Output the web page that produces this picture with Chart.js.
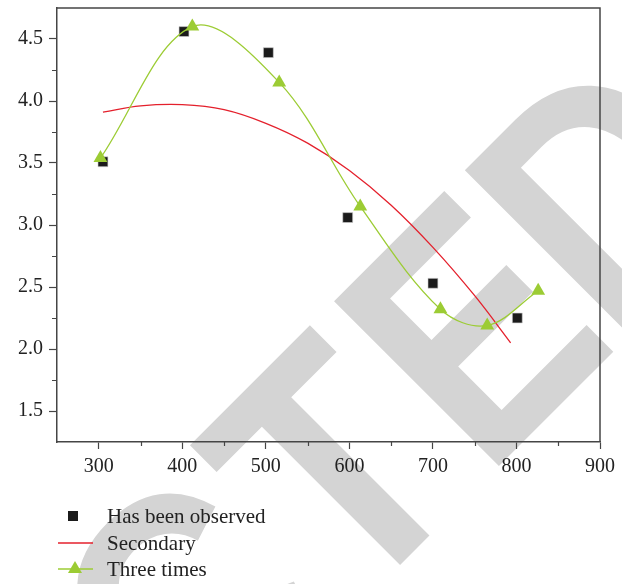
<!DOCTYPE html>
<html>
<head>
<meta charset="utf-8">
<script src="https://cdn.jsdelivr.net/npm/chart.js@4/dist/chart.umd.min.js"></script>
<style>
    html, body { margin: 0; padding: 0; background: #fff; }
    #wrap { width: 622px; height: 584px; position: relative; }
</style>
</head>
<body>
<div id="wrap"><canvas id="fitChart"></canvas></div>
<script>
// measured points
const observedX = [305, 402, 503, 598, 700, 801];
const observedY = [3.51, 4.56, 4.39, 3.06, 2.53, 2.25];

// second-order fit
const secondaryX = [305, 350, 400, 450, 500, 550, 600, 650, 700, 750, 793];
const secondaryY = [3.91, 3.96, 3.97, 3.93, 3.82, 3.66, 3.44, 3.16, 2.82, 2.43, 2.05];

// third-order curve with its markers
const threeX = [302, 412, 516, 613, 709, 765, 826];
const threeY = [3.54, 4.60, 4.15, 3.15, 2.32, 2.19, 2.47];

const xTicks = [300, 400, 500, 600, 700, 800, 900];
const yTicks = [1.5, 2.0, 2.5, 3.0, 3.5, 4.0, 4.5];
const xMinor = [350, 450, 550, 650, 750, 850];
const yMinor = [1.75, 2.25, 2.75, 3.25, 3.75, 4.25];

const seriesNames = ['Has been observed', 'Secondary', 'Three times'];

const axisColor = '#454545';
const redColor = 'rgb(228, 32, 44)';
const greenColor = 'rgb(156, 204, 52)';
const serif = '"Liberation Serif", "DejaVu Serif", serif';

function pts(xs, ys) {
    return xs.map((x, i) => ({x: x, y: ys[i]}));
}

// big diagonal stamp behind the plot, letters laid out one by one
// u runs along the word (up-right), w across it (down-right)
const stampPlugin = {
    id: 'stamp',
    beforeDraw(chart) {
        const ctx = chart.ctx;
        const word = 'RETRACTED';
        const sx = 0.85;
        const base = 965 / Math.SQRT2;
        ctx.save();
        ctx.font = 'bold 339px "Liberation Sans", Arial, sans-serif';
        ctx.fillStyle = '#d4d4d4';
        ctx.textBaseline = 'alphabetic';
        ctx.rotate(-Math.PI / 4);

        const m = [...word].map(ch => ctx.measureText(ch));
        const origin = new Array(word.length);
        // anchors for the tail of the word
        origin[8] = 207 + m[8].actualBoundingBoxLeft * sx;          // D, ink left
        origin[7] = 22 + m[7].actualBoundingBoxLeft * sx;           // E, ink left
        origin[6] = -96 - sx * (m[6].actualBoundingBoxRight - m[6].actualBoundingBoxLeft) / 2; // T, centred
        origin[5] = -201 - m[5].actualBoundingBoxRight * sx;        // C, ink right
        for (let i = 4; i >= 0; i--) {
            origin[i] = origin[i + 1] - m[i].width * sx;
        }
        [...word].forEach((ch, i) => {
            ctx.save();
            ctx.translate(origin[i], base);
            ctx.scale(sx, 1);
            ctx.fillText(ch, 0, 0);
            ctx.restore();
        });
        ctx.restore();
    }
};

// box around the plot plus short minor ticks
const framePlugin = {
    id: 'frame',
    beforeDatasetsDraw(chart) {
        const ctx = chart.ctx;
        const a = chart.chartArea;
        const xs = chart.scales.x, ys = chart.scales.y;
        ctx.save();
        ctx.strokeStyle = axisColor;
        ctx.lineWidth = 1.5;
        ctx.beginPath();
        ctx.moveTo(a.left, a.top);
        ctx.lineTo(a.right, a.top);
        ctx.lineTo(a.right, a.bottom);
        ctx.stroke();
        ctx.lineWidth = 1.2;
        ctx.beginPath();
        xMinor.forEach(v => {
            const px = Math.round(xs.getPixelForValue(v)) + 0.5;
            ctx.moveTo(px, a.bottom);
            ctx.lineTo(px, a.bottom + 4);
        });
        yMinor.forEach(v => {
            const py = Math.round(ys.getPixelForValue(v)) + 0.5;
            ctx.moveTo(a.left, py);
            ctx.lineTo(a.left - 5, py);
        });
        ctx.stroke();
        ctx.restore();
    }
};

// legend stacked under the x axis
const legendPlugin = {
    id: 'stackedLegend',
    afterDraw(chart) {
        const ctx = chart.ctx;
        const rows = [516, 543, 569];
        ctx.save();
        ctx.font = '21px ' + serif;
        ctx.fillStyle = '#222';
        ctx.textBaseline = 'middle';
        seriesNames.forEach((name, i) => ctx.fillText(name, 107, rows[i] + 1));

        ctx.fillStyle = '#1b1b1b';
        ctx.fillRect(68, rows[0] - 5, 10, 10);

        ctx.lineWidth = 1.3;
        ctx.strokeStyle = redColor;
        ctx.beginPath();
        ctx.moveTo(58, rows[1]);
        ctx.lineTo(93, rows[1]);
        ctx.stroke();

        ctx.strokeStyle = greenColor;
        ctx.beginPath();
        ctx.moveTo(58, rows[2]);
        ctx.lineTo(93, rows[2]);
        ctx.stroke();
        ctx.fillStyle = greenColor;
        ctx.beginPath();
        ctx.moveTo(75, rows[2] - 8);
        ctx.lineTo(82, rows[2] + 4);
        ctx.lineTo(68, rows[2] + 4);
        ctx.closePath();
        ctx.fill();
        ctx.restore();
    }
};

const data = {
    datasets: [{
            label: seriesNames[0],
            data: pts(observedX, observedY),
            showLine: false,
            pointStyle: 'rect',
            pointRadius: 7,
            pointBackgroundColor: '#1b1b1b',
            pointBorderColor: '#cfcfcf',
            pointBorderWidth: 0.6,
            order: 2
        }, {
            label: seriesNames[1],
            data: pts(secondaryX, secondaryY),
            showLine: true,
            borderColor: redColor,
            borderWidth: 1.3,
            pointRadius: 0,
            tension: 0.4,
            order: 1
        }, {
            label: seriesNames[2],
            data: pts(threeX, threeY),
            showLine: true,
            borderColor: greenColor,
            borderWidth: 1.3,
            pointStyle: 'triangle',
            pointRadius: 8,
            pointBackgroundColor: greenColor,
            pointBorderColor: greenColor,
            pointBorderWidth: 0,
            tension: 0.35,
            order: 0
        }]
};

const config = {
    type: 'scatter',
    data: data,
    plugins: [stampPlugin, framePlugin, legendPlugin],
    options: {
        responsive: false,
        animation: false,
        layout: {padding: {left: 0, right: 22, top: 6, bottom: 0}},
        plugins: {legend: {display: false}, tooltip: {enabled: false}},
        scales: {
            x: {
                type: 'linear',
                min: 250,
                max: 900,
                afterBuildTicks: s => { s.ticks = xTicks.map(v => ({value: v})); },
                afterFit: s => { s.height = 142; s.paddingLeft = 0; s.paddingRight = 0; },
                border: {color: axisColor, width: 1.5},
                grid: {drawOnChartArea: false, tickLength: 7, tickColor: axisColor, tickWidth: 1.2},
                ticks: {color: '#222', padding: 6, font: {family: serif, size: 20}, maxRotation: 0}
            },
            y: {
                type: 'linear',
                min: 1.25,
                max: 4.75,
                afterBuildTicks: s => { s.ticks = yTicks.map(v => ({value: v})); },
                afterFit: s => { s.width = 57; s.paddingTop = 0; s.paddingBottom = 0; },
                border: {color: axisColor, width: 1.5},
                grid: {drawOnChartArea: false, tickLength: 8, tickColor: axisColor, tickWidth: 1.2},
                ticks: {color: '#222', padding: 6, font: {family: serif, size: 20},
                    callback: v => v.toFixed(1)}
            }
        }
    }
};

const canvas = document.getElementById('fitChart');
canvas.width = 622;
canvas.height = 584;
new Chart(canvas.getContext('2d'), config);
</script>
</body>
</html>
